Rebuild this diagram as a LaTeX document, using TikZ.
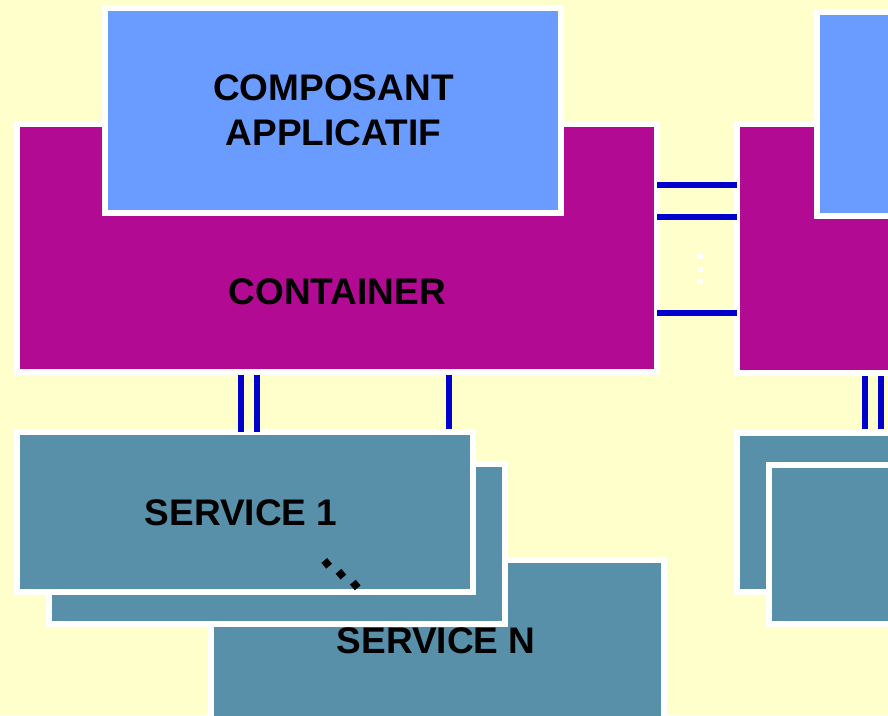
\documentclass[tikz,border=0pt]{standalone}
\usepackage{fontspec}
\setmainfont{Liberation Sans}
\usetikzlibrary{calc}
\definecolor{bgyellow}{HTML}{FFFFCC}
\definecolor{contmag}{HTML}{B20A92}
\definecolor{compblue}{HTML}{6A9BFF}
\definecolor{servteal}{HTML}{5890AA}
\definecolor{linkblue}{HTML}{0000CC}
\tikzset{
  box/.style={rectangle, draw=white, line width=6pt, outer sep=0pt, inner sep=0pt},
  link/.style={draw=linkblue, line width=6pt},
  lbl/.style={font=\fontsize{37}{44.6}\selectfont\bfseries, text=black, inner sep=0pt, outer sep=0pt},
  wdot/.style={rectangle, fill=white, minimum size=5.3pt, inner sep=0pt},
  bdot/.style={rectangle, fill=black, minimum size=7.5pt, inner sep=0pt, rotate=40}
}
\begin{document}
\begin{tikzpicture}[x=1pt, y=-1pt]
\useasboundingbox (0,0) rectangle (888,715);
\clip (0,0) rectangle (888,715);
\fill[bgyellow] (0,0) rectangle (888,715);
% left side
\node[box, fill=contmag, minimum width=640pt, minimum height=248pt] (cL) at (337,248) {};
\node[box, fill=compblue, minimum width=456pt, minimum height=205pt] (aL) at (333,110.5) {};
% right side
\node[box, fill=contmag, minimum width=223pt, minimum height=249pt] (cR) at (848.5,248.5) {};
\node[box, fill=compblue, minimum width=143pt, minimum height=204pt] (aR) at (888.5,114) {};
% services
\node[box, fill=servteal, minimum width=453pt, minimum height=220pt] (sN) at (437.5,670) {};
\node[box, fill=servteal, minimum width=456pt, minimum height=159.5pt] (s2) at (277,543.75) {};
\node[box, fill=servteal, minimum width=455.5pt, minimum height=160pt] (s1) at (244.75,512) {};
\node[box, fill=servteal, minimum width=223pt, minimum height=159pt] (r1) at (848.5,512.5) {};
\node[box, fill=servteal, minimum width=191pt, minimum height=159pt] (r2) at (864.5,544.5) {};
% links between containers
\draw[link] (cL.east |- 0,184.5) -- (cR.west |- 0,184.5);
\draw[link] (cL.east |- 0,216.5) -- (cR.west |- 0,216.5);
\draw[link] (cL.east |- 0,312.5) -- (cR.west |- 0,312.5);
% links container - services
\draw[link] ($(cL.south -| 241,0)+(0,3)$) -- (s1.north -| 241,0);
\draw[link] ($(cL.south -| 257,0)+(0,3)$) -- (s1.north -| 257,0);
\draw[link] ($(cL.south -| 449,0)+(0,3)$) -- ($(s1.north -| 449,0)+(0,-3)$);
\draw[link] ($(cR.south -| 865,0)+(0,3)$) -- ($(r1.north -| 865,0)+(0,-4)$);
\draw[link] ($(cR.south -| 881,0)+(0,3)$) -- ($(r1.north -| 881,0)+(0,-4)$);
% vertical ellipsis between containers
\node[wdot] (d1) at (700,256.7) {};
\node[wdot] (d2) at (700,269.3) {};
\node[wdot] (d3) at (700,281.7) {};
% diagonal ellipsis
\node[bdot] (e1) at (326.7,563.3) {};
\node[bdot] (e2) at (340.9,574.2) {};
\node[bdot] (e3) at (355.3,585) {};
% labels
\node[lbl, align=center] (tA) at (333.4,110.5) {COMPOSANT\\APPLICATIF};
\node[lbl, anchor=base] (tC) at (337.3,304.3) {CONTAINER};
\node[lbl, anchor=base] (t1) at (241.2,525.7) {SERVICE 1};
\node[lbl, anchor=base] (tN) at (436.2,653.3) {SERVICE N};
\end{tikzpicture}
\end{document}
